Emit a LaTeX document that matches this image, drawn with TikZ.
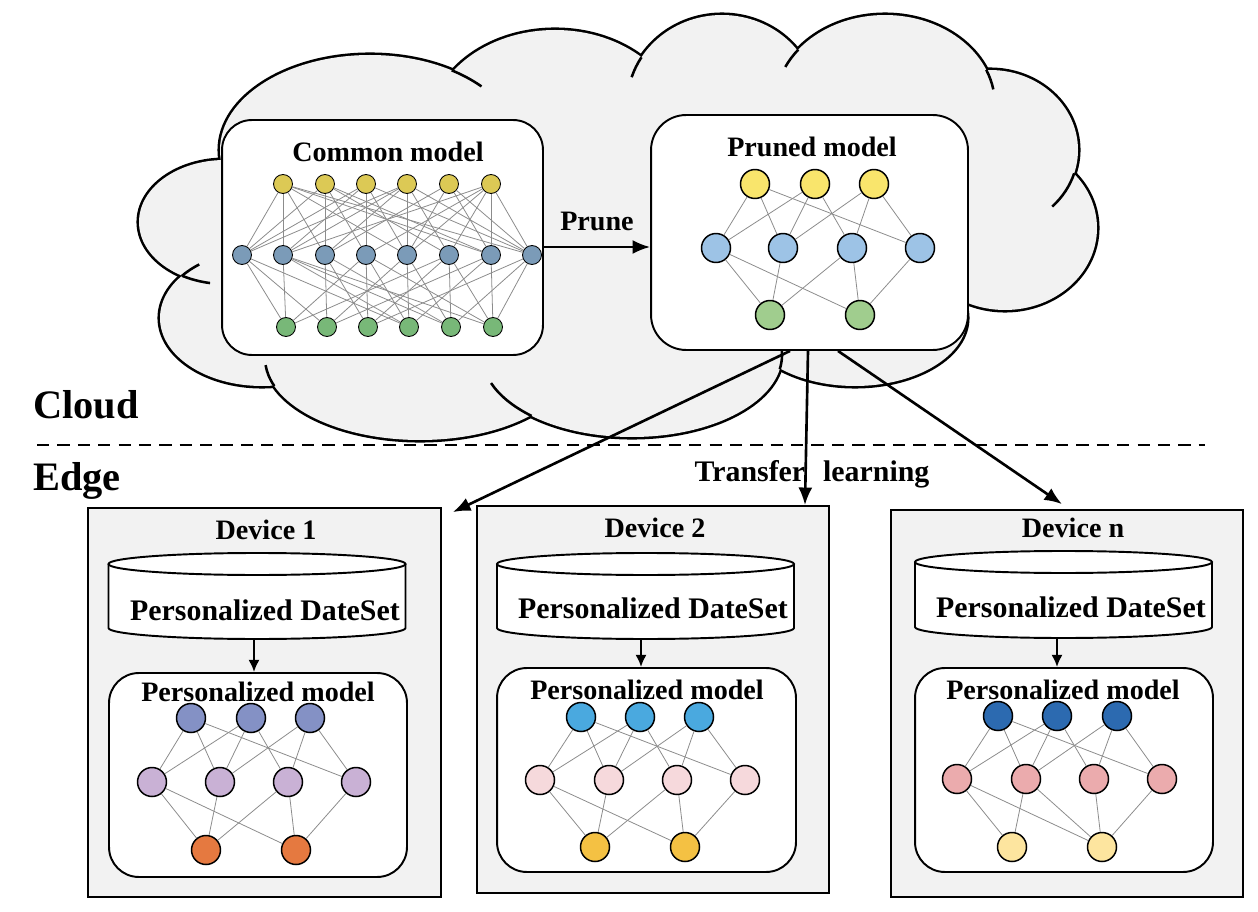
\documentclass[tikz,border=0pt]{standalone}
\usepackage{fontspec}
\setmainfont{Liberation Serif}
\usetikzlibrary{arrows.meta}
\definecolor{cloudgray}{HTML}{F2F2F2}
\definecolor{wiregray}{HTML}{8C8C8C}
\definecolor{cyel}{HTML}{DCC955}
\definecolor{cblu}{HTML}{7B9BB8}
\definecolor{cgrn}{HTML}{78B878}
\definecolor{prtop}{HTML}{F9E56C}
\definecolor{prmid}{HTML}{9DC3E6}
\definecolor{prbot}{HTML}{A0CD8E}
\definecolor{datop}{HTML}{8491C5}
\definecolor{damid}{HTML}{C9B1D5}
\definecolor{dabot}{HTML}{E57940}
\definecolor{dbtop}{HTML}{4AA9DF}
\definecolor{dbmid}{HTML}{F6D9DC}
\definecolor{dbbot}{HTML}{F4C143}
\definecolor{dctop}{HTML}{2C6AB0}
\definecolor{dcmid}{HTML}{EBABAD}
\definecolor{dcbot}{HTML}{FDE59F}
\newcommand\smallnet[8]{%
 \foreach \x [count=\i] in {#2} \node[bnode, fill=#1top] (#1t\i) at (\x,#3) {};
 \foreach \x [count=\i] in {#4} \node[bnode, fill=#1mid] (#1m\i) at (\x,#5) {};
 \foreach \x [count=\i] in {#6} \node[bnode, fill=#1bot] (#1b\i) at (\x,#7) {};
 \foreach \a/\b in {1/1,1/2,1/4,2/1,2/2,2/3,3/2,3/3,3/4} \draw[wire] (#1t\a) -- (#1m\b);
 \foreach \a/\b in {#8} \draw[wire] (#1m\a) -- (#1b\b);
}
\newcommand\cloudstub[6]{\draw[cloudline] ([shift={(#5:#3 and #4)}]#1,#2) arc[start angle=#5, end angle=#6, x radius=#3, y radius=#4];}
\newcommand\dbcyl[3]{% cx, top y, bottom y
 \draw[line width=1.1pt, fill=white] (#1-148.5,#2) -- (#1-148.5,#3) arc[start angle=180, end angle=0, x radius=148.5, y radius=11] -- (#1+148.5,#2);
 \draw[line width=1.1pt, fill=white] (#1,#2) ellipse[x radius=148.5, y radius=11];
}
\begin{document}
\begin{tikzpicture}[x=0.02cm,y=-0.02cm,
 wire/.style={draw=wiregray, line width=0.45pt},
 cnode/.style={circle, draw, line width=0.5pt, minimum size=0.38cm, inner sep=0pt},
 bnode/.style={circle, draw, line width=0.85pt, minimum size=0.58cm, inner sep=0pt},
 mbox/.style={draw, fill=white, line width=1.1pt, rounded corners=17pt, inner sep=0pt},
 dbox/.style={draw, fill=cloudgray, line width=1.05pt, inner sep=0pt},
 title/.style={font=\bfseries\fontsize{16}{18}\selectfont, inner sep=0pt},
 dstext/.style={font=\bfseries\fontsize{17}{20}\selectfont, inner sep=0pt},
 big/.style={font=\bfseries\fontsize{23}{26}\selectfont, inner sep=0pt, anchor=west},
 flow/.style={line width=1.5pt, -{Latex[length=10pt,width=8pt]}},
 small flow/.style={line width=1.4pt, -{Latex[length=7pt,width=6.5pt]}},
 cloudline/.style={line width=1.45pt},
 sep/.style={line width=1.4pt, dash pattern=on 7pt off 4.6pt},
]
\useasboundingbox (0,0) rectangle (1258,912);

% ---------- cloud ----------
\def\lobes{370/150/150/95, 555/128/125/98, 722/105/95/90, 885/105/110/90,
 990/150/88/80, 1005/228/92/82, 855/318/112/68, 632/355/150/82,
 420/358/155/82, 262/318/102/68, 225/222/86/62}
\foreach \cx/\cy/\rx/\ry in \lobes \draw[line width=2.9pt] (\cx,\cy) ellipse[x radius=\rx, y radius=\ry];
\foreach \cx/\cy/\rx/\ry in \lobes \fill[cloudgray] (\cx,\cy) ellipse[x radius=\rx, y radius=\ry];
\fill[cloudgray] (640,225) ellipse[x radius=400, y radius=130];
\cloudstub{370}{150}{150}{95}{-57}{-42}
\cloudstub{722}{105}{95}{90}{212}{198}
\cloudstub{885}{105}{110}{90}{218}{205}
\cloudstub{885}{105}{110}{90}{-23}{-10}
\cloudstub{990}{150}{88}{80}{17}{45}
\cloudstub{225}{222}{86}{62}{120}{100}
\cloudstub{632}{355}{150}{82}{132}{160}
\cloudstub{632}{355}{150}{82}{10}{-8}
\cloudstub{420}{358}{155}{82}{160}{175}
\cloudstub{262}{318}{102}{68}{218}{232}

% ---------- common model ----------
\node[mbox, minimum width=6.42cm, minimum height=4.7cm] (common) at (382.5,237.5) {};
\node[title] (commont) at (388,152) {Common model};
\foreach \x [count=\i] in {283,325,366,407,449,491} \node[cnode, fill=cyel] (ct\i) at (\x,184) {};
\foreach \x [count=\i] in {242,283,325,366,407,449,491,532} \node[cnode, fill=cblu] (cm\i) at (\x,255) {};
\foreach \x [count=\i] in {286,327,368,409,451,493} \node[cnode, fill=cgrn] (cb\i) at (\x,327) {};
\foreach \a/\b in {1/1,1/2,1/3,1/5,1/7,1/8, 2/1,2/3,2/4,2/6,2/7, 3/1,3/2,3/4,3/5,3/8,
 4/1,4/2,4/3,4/5,4/6,4/8, 5/3,5/5,5/7,5/8, 6/2,6/4,6/5,6/6,6/7,6/8}
 \draw[wire] (ct\a) -- (cm\b);
\foreach \a/\b in {1/1,1/2,1/4, 2/1,2/4,2/5,2/6, 3/2,3/3,3/5, 4/1,4/3,4/4,4/6,
 5/2,5/4,5/5, 6/1,6/3,6/5,6/6, 7/2,7/4,7/6, 8/3,8/5,8/6}
 \draw[wire] (cm\a) -- (cb\b);

% ---------- pruned model ----------
\node[mbox, rounded corners=20pt, minimum width=6.34cm, minimum height=4.7cm] (pruned) at (809.5,232.5) {};
\node[title] (prunedt) at (812,147) {Pruned model};
\smallnet{pr}{755,815,874}{184}{716,783,852,920}{248}{770,860}{315}{1/1,1/2,2/1,3/1,3/2,4/2}

% prune arrow
\coordinate (pa) at ([yshift=-0.19cm]common.east);
\draw[flow, line width=1.3pt] (pa) -- (pa -| pruned.west);
\node[title] (prunel) at (597,221) {Prune};

% ---------- labels and separator ----------
\node[big] (cloudl) at (33,405) {Cloud};
\node[big] (edgel) at (33,481) {Edge};
\coordinate (sl) at (37,445);
\coordinate (sr) at (1205,445);
\draw[sep] (sl) -- (sr);

% ---------- devices ----------
\node[dbox, minimum width=7.06cm, minimum height=7.78cm] (dev1) at (264.5,702.5) {};
\node[dbox, minimum width=7.04cm, minimum height=7.74cm] (dev2) at (653,699.5) {};
\node[dbox, minimum width=7.04cm, minimum height=7.74cm] (devn) at (1067,703.5) {};
\node[title] (dev1t) at (266,530) {Device 1};
\node[title] (dev2t) at (655,528) {Device 2};
\node[title] (devnt) at (1073,528) {Device n};

\dbcyl{257}{564}{628}
\dbcyl{645.5}{564}{628}
\dbcyl{1063.5}{562}{627}
\node[dstext] (ds1) at (265,610) {Personalized DateSet};
\node[dstext] (ds2) at (653,608) {Personalized DateSet};
\node[dstext] (dsn) at (1071,607) {Personalized DateSet};
\coordinate (cyl1b) at (254,639);
\coordinate (cyl2b) at (641,639);
\coordinate (cylnb) at (1057,638);

\node[mbox, minimum width=5.96cm, minimum height=4.08cm] (pm1) at (258,775) {};
\node[mbox, minimum width=5.98cm, minimum height=4.08cm] (pm2) at (646.5,770) {};
\node[mbox, minimum width=5.96cm, minimum height=4.08cm] (pmn) at (1064,770) {};
\draw[small flow] (cyl1b) -- (cyl1b |- pm1.north);
\draw[small flow] (cyl2b) -- (cyl2b |- pm2.north);
\draw[small flow] (cylnb) -- (cylnb |- pmn.north);
\node[title] (pm1t) at (258,692) {Personalized model};
\node[title] (pm2t) at (647,690) {Personalized model};
\node[title] (pmnt) at (1063,690) {Personalized model};

\smallnet{da}{191,251,310}{718}{152,220,288,356}{782}{206,296}{850}{1/1,1/2,2/1,3/1,3/2,4/2}
\smallnet{db}{581,640,699}{717}{540,609,677,745}{780}{595,685}{847}{1/1,1/2,2/1,3/1,3/2,4/2}
\smallnet{dc}{998,1057,1117}{716}{957,1026,1094,1162}{779}{1012,1102}{847}{1/1,1/2,2/1,2/2,3/2,4/2}

% ---------- transfer arrows ----------
\node[dstext] (tl) at (812,474) {Transfer\hspace{0.6em}learning};
\draw[flow] ([xshift=-0.39cm]pruned.south) -- ([xshift=0.22cm,yshift=-0.1cm]dev1.north east);
\draw[flow] ([xshift=-0.03cm]pruned.south) -- ([xshift=3.04cm]dev2.north);
\draw[flow] ([xshift=0.57cm]pruned.south) -- ([xshift=-0.1cm,yshift=0.1cm]devn.north);
\end{tikzpicture}
\end{document}
